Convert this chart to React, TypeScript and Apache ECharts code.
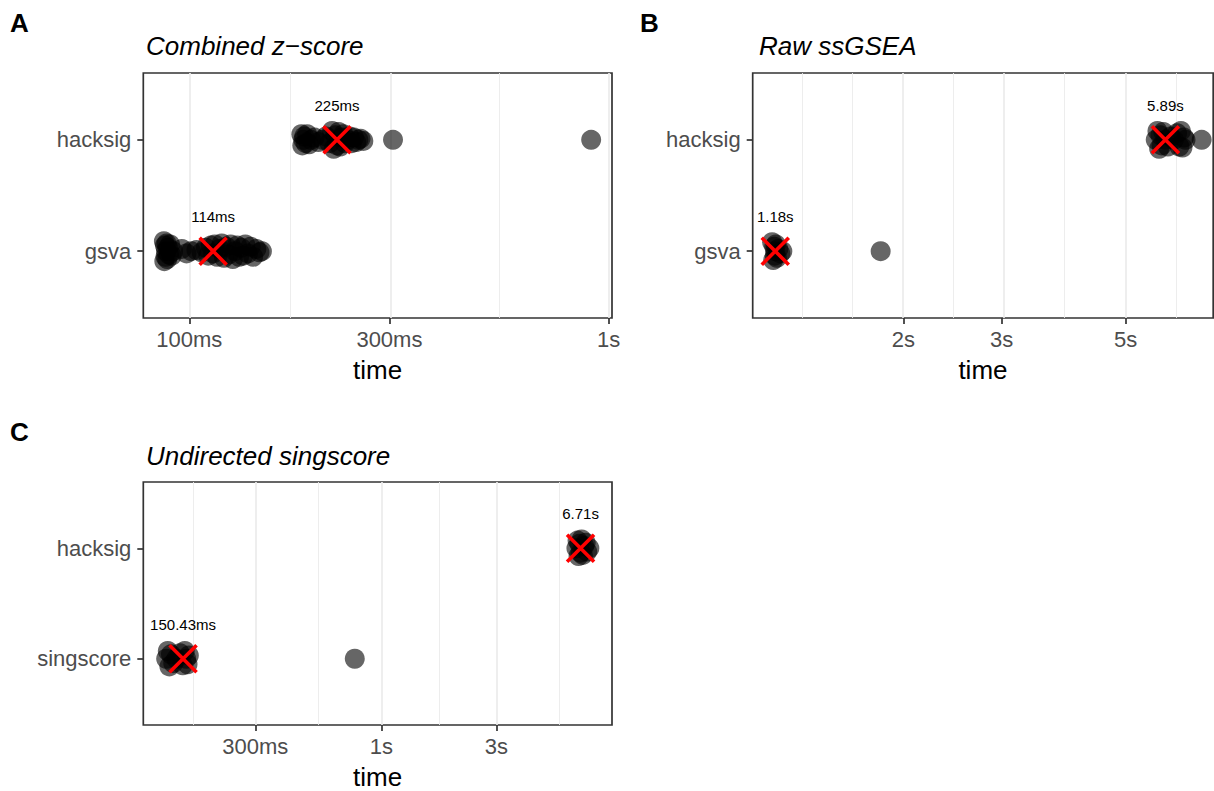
import React, { useEffect, useRef } from 'react';
import * as echarts from 'echarts';

const FONT = '"Liberation Sans", Arial, Helvetica, sans-serif';

// ---------- Panel A: Combined z-score ----------
const titleA = 'Combined z−score';
const categoriesA = ['gsva', 'hacksig'];
const gsvaTimesA = [0.087, 0.0872, 0.0875, 0.0878, 0.088, 0.0883, 0.0886, 0.089, 0.0895, 0.09, 0.0908, 0.0915, 0.096, 0.0985, 0.101, 0.104, 0.107, 0.1095, 0.111, 0.1125, 0.114, 0.115, 0.1165, 0.118, 0.1195, 0.121, 0.1225, 0.124, 0.1255, 0.127, 0.1285, 0.13, 0.1315, 0.133, 0.1345, 0.136, 0.138, 0.14, 0.142, 0.1445, 0.147, 0.149];
const gsvaJitterA = [0.09, -0.09, 0.05, -0.05, 0.0, 0.07, -0.07, 0.03, -0.03, 0.06, -0.04, 0.0, 0.02, -0.02, 0.0, 0.01, -0.01, 0.03, -0.04, 0.05, -0.02, 0.06, -0.05, 0.02, 0.07, -0.06, 0.04, -0.03, 0.06, -0.07, 0.0, 0.05, -0.05, 0.03, -0.04, 0.06, -0.02, 0.04, -0.05, 0.02, -0.01, 0.0];
const hacksigTimesA = [0.185, 0.186, 0.187, 0.188, 0.1895, 0.191, 0.193, 0.195, 0.199, 0.203, 0.208, 0.212, 0.216, 0.219, 0.221, 0.223, 0.225, 0.227, 0.229, 0.231, 0.233, 0.235, 0.238, 0.241, 0.244, 0.247, 0.25, 0.253, 0.256, 0.26, 0.306, 0.908];
const hacksigJitterA = [0.05, -0.05, 0.0, 0.03, -0.03, 0.05, -0.04, 0.0, 0.02, -0.02, 0.0, 0.03, -0.03, 0.08, -0.08, 0.04, -0.05, 0.07, -0.06, 0.02, 0.05, -0.03, 0.0, 0.03, -0.03, 0.02, -0.02, 0.0, 0.01, -0.01, 0.0, 0.0];
const mediansA = [0.114, 0.225];
const medianLabelsA = ['114ms', '225ms'];
const majorBreaksA = [0.1, 0.3, 1];
const minorBreaksA = [0.1732, 0.5477];
const rangeA = [0.0777, 1.018];

// ---------- Panel B: Raw ssGSEA ----------
const titleB = 'Raw ssGSEA';
const categoriesB = ['gsva', 'hacksig'];
const gsvaTimesB = [1.165, 1.17, 1.175, 1.178, 1.18, 1.183, 1.188, 1.195, 1.205, 1.215, 1.822];
const gsvaJitterB = [0.08, -0.08, 0.04, -0.04, 0.0, 0.06, -0.06, 0.02, -0.02, 0.0, 0.0];
const hacksigTimesB = [5.66, 5.7, 5.74, 5.77, 5.8, 5.84, 5.89, 5.95, 6.02, 6.1, 6.18, 6.24, 6.28, 6.32, 6.36, 6.4, 6.84];
const hacksigJitterB = [0.0, 0.08, -0.08, 0.04, -0.05, 0.07, 0.0, -0.06, 0.03, 0.0, 0.06, -0.06, 0.08, -0.07, 0.02, 0.0, 0.0];
const mediansB = [1.18, 5.89];
const medianLabelsB = ['1.18s', '5.89s'];
const majorBreaksB = [2, 3, 5];
const minorBreaksB = [1.333, 1.633, 2.449, 3.873, 6.124];
const rangeB = [1.0753, 7.173];

// ---------- Panel C: Undirected singscore ----------
const titleC = 'Undirected singscore';
const categoriesC = ['singscore', 'hacksig'];
const singscoreTimesC = [0.128, 0.13, 0.132, 0.134, 0.137, 0.141, 0.146, 0.15, 0.153, 0.155, 0.157, 0.159, 0.776];
const singscoreJitterC = [0.0, 0.07, -0.07, 0.04, -0.04, 0.0, 0.05, -0.06, 0.07, 0.0, -0.05, 0.03, 0.0];
const hacksigTimesC = [6.45, 6.52, 6.58, 6.64, 6.71, 6.78, 6.86, 6.95, 7.05, 7.15, 7.3];
const hacksigJitterC = [0.0, 0.07, -0.07, 0.04, -0.04, 0.08, -0.06, 0.02, 0.05, -0.03, 0.0];
const mediansC = [0.15043, 6.71];
const medianLabelsC = ['150.43ms', '6.71s'];
const majorBreaksC = [0.3, 1, 3];
const minorBreaksC = [0.1643, 0.5477, 1.732, 5.477];
const rangeC = [0.10289, 9.062];

const lg = (v: number) => Math.log10(v);

function fmtTime(v: number) {
  const t = Math.pow(10, v);
  if (t < 1) return `${Math.round(t * 1000)}ms`;
  return `${+t.toPrecision(3)}s`;
}

type Panel = {
  title: string;
  letter: string;
  categories: string[];
  times: number[][];
  jitter: number[][];
  medians: number[];
  medianLabels: string[];
  majors: number[];
  minors: number[];
  range: number[];
  grid: { left: number; top: number; width: number; height: number };
  titlePos: [number, number];
  letterPos: [number, number];
};

const panels: Panel[] = [
  {
    title: titleA, letter: 'A', categories: categoriesA,
    times: [gsvaTimesA, hacksigTimesA], jitter: [gsvaJitterA, hacksigJitterA],
    medians: mediansA, medianLabels: medianLabelsA,
    majors: majorBreaksA, minors: minorBreaksA, range: rangeA,
    grid: { left: 143.3, top: 73, width: 468.7, height: 245 },
    titlePos: [146, 46], letterPos: [10, 23],
  },
  {
    title: titleB, letter: 'B', categories: categoriesB,
    times: [gsvaTimesB, hacksigTimesB], jitter: [gsvaJitterB, hacksigJitterB],
    medians: mediansB, medianLabels: medianLabelsB,
    majors: majorBreaksB, minors: minorBreaksB, range: rangeB,
    grid: { left: 752.7, top: 73, width: 460.5, height: 245 },
    titlePos: [759, 46], letterPos: [640, 23],
  },
  {
    title: titleC, letter: 'C', categories: categoriesC,
    times: [singscoreTimesC, hacksigTimesC], jitter: [singscoreJitterC, hacksigJitterC],
    medians: mediansC, medianLabels: medianLabelsC,
    majors: majorBreaksC, minors: minorBreaksC, range: rangeC,
    grid: { left: 143.3, top: 482, width: 468.7, height: 245.3 },
    titlePos: [146, 456], letterPos: [10, 432],
  },
];

function buildOption() {
  const grid: any[] = [];
  const xAxis: any[] = [];
  const yAxis: any[] = [];
  const series: any[] = [];
  const graphic: any[] = [];

  panels.forEach((p, i) => {
    grid.push({
      ...p.grid,
      show: true,
      borderColor: '#333333',
      borderWidth: 1.7,
      backgroundColor: 'transparent',
      containLabel: false,
    });
    const xTicks = p.majors.map(lg);
    xAxis.push({
      type: 'value',
      gridIndex: i,
      position: 'bottom',
      min: lg(p.range[0]),
      max: lg(p.range[1]),
      axisLine: { show: false, onZero: false },
      splitLine: { show: false },
      axisTick: {
        show: true,
        customValues: xTicks,
        length: 6,
        lineStyle: { color: '#333333', width: 1.7 },
      },
      axisLabel: {
        customValues: xTicks,
        formatter: (v: number) => fmtTime(v),
        color: '#4d4d4d',
        fontSize: 22,
        fontFamily: FONT,
        margin: 10,
      },
      name: 'time',
      nameLocation: 'middle',
      nameGap: 39,
      nameTextStyle: { fontSize: 26, color: '#000000', fontFamily: FONT },
    });
    const cats = p.categories;
    yAxis.push({
      type: 'value',
      gridIndex: i,
      position: 'left',
      min: 0.4,
      max: 2.6,
      axisLine: { show: false, onZero: false },
      splitLine: { show: false },
      axisTick: {
        show: true,
        customValues: [1, 2],
        length: 6,
        lineStyle: { color: '#333333', width: 1.7 },
      },
      axisLabel: {
        customValues: [1, 2],
        formatter: (v: number) => cats[Math.round(v) - 1] ?? '',
        color: '#4d4d4d',
        fontSize: 22,
        fontFamily: FONT,
        margin: 12,
      },
    });

    p.times.forEach((arr, c) => {
      const s: any = {
        type: 'scatter',
        xAxisIndex: i,
        yAxisIndex: i,
        z: 2,
        symbol: 'circle',
        symbolSize: 20,
        silent: true,
        itemStyle: { color: 'rgba(0,0,0,0.6)', opacity: 1 },
        data: arr.map((t, j) => [lg(t), c + 1 + p.jitter[c][j]]),
      };
      if (c === 0) {
        s.markLine = {
          silent: true,
          z: 1,
          symbol: ['none', 'none'],
          label: { show: false },
          animation: false,
          data: [
            ...p.majors.map((v) => ({ xAxis: lg(v), lineStyle: { color: '#ebebeb', width: 1.7, type: 'solid' } })),
            ...p.minors.map((v) => ({ xAxis: lg(v), lineStyle: { color: '#ebebeb', width: 0.9, type: 'solid' } })),
          ],
        };
      }
      series.push(s);
    });

    const labels = p.medianLabels;
    series.push({
      type: 'scatter',
      xAxisIndex: i,
      yAxisIndex: i,
      z: 3,
      silent: true,
      symbol: 'path://M0,0L20,20M20,0L0,20',
      symbolSize: 27,
      itemStyle: { color: 'none', borderColor: '#ff0000', borderWidth: 3.6, opacity: 1 },
      label: {
        show: true,
        position: 'top',
        distance: 11,
        formatter: (q: any) => labels[q.dataIndex],
        color: '#000000',
        fontSize: 15,
        fontFamily: FONT,
      },
      data: p.medians.map((m, k) => [lg(m), k + 1]),
    });

    graphic.push({
      type: 'text',
      x: p.titlePos[0],
      y: p.titlePos[1],
      style: {
        text: p.title,
        fill: '#000000',
        font: `italic 26px ${FONT}`,
        textAlign: 'left',
        textVerticalAlign: 'middle',
        align: 'left',
        verticalAlign: 'middle',
      },
    });
    graphic.push({
      type: 'text',
      x: p.letterPos[0],
      y: p.letterPos[1],
      style: {
        text: p.letter,
        fill: '#000000',
        font: `bold 26px ${FONT}`,
        textAlign: 'left',
        textVerticalAlign: 'middle',
        align: 'left',
        verticalAlign: 'middle',
      },
    });
  });

  return {
    animation: false,
    backgroundColor: '#ffffff',
    textStyle: { fontFamily: FONT },
    grid,
    xAxis,
    yAxis,
    series,
    graphic,
  };
}

export default function App() {
  const ref = useRef<HTMLDivElement>(null);
  useEffect(() => {
    if (!ref.current) return;
    const chart = echarts.init(ref.current, undefined, { renderer: 'svg' });
    chart.setOption(buildOption() as any);
    return () => chart.dispose();
  }, []);
  return (
    <div
      ref={ref}
      style={{ position: 'absolute', left: 0, top: 0, width: 1214, height: 791, background: '#fff' }}
    />
  );
}
